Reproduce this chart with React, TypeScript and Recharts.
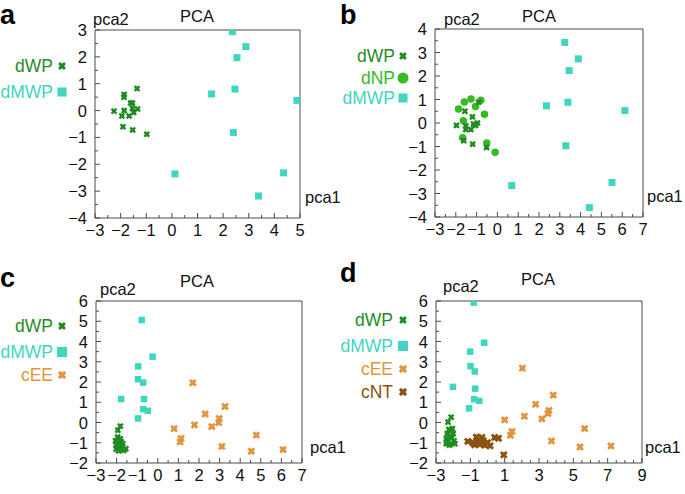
import React from "react";
import { ScatterChart, Scatter, XAxis, YAxis, ReferenceArea } from "recharts";

// ---- data ----
const aWP: [number, number][] = [
  [-1.36, 0.82], [-1.86, 0.6], [-1.87, 0.5], [-1.61, 0.28], [-1.54, 0.28],
  [-2.26, -0.02], [-1.86, 0.0], [-1.54, 0.08], [-1.34, 0.06], [-1.49, -0.07],
  [-1.95, -0.2], [-1.67, -0.2], [-1.91, -0.6], [-1.53, -0.72], [-0.98, -0.88],
];
const aMWP: [number, number][] = [
  [2.36, 2.94], [2.89, 2.38], [2.54, 1.97], [2.46, 0.8], [1.55, 0.62],
  [4.88, 0.38], [2.4, -0.82], [0.12, -2.36], [4.36, -2.32], [3.38, -3.18],
];

const bWP: [number, number][] = [
  [-0.91, 0.88], [-1.56, 0.5], [-1.2, 0.26], [-1.97, -0.1], [-1.52, -0.12],
  [-1.15, -0.04], [-0.96, 0.0], [-1.52, -0.27], [-1.28, -0.28], [-1.62, -0.75],
  [-1.19, -0.9], [-0.52, -1.04], [-1.05, -0.1],
];
const bNP: [number, number][] = [
  [-1.27, 1.02], [-0.8, 0.97], [-1.59, 0.89], [-1.05, 0.7], [-1.87, 0.6],
  [-0.62, 0.37], [-1.64, 0.1], [-1.67, -0.63], [-0.51, -0.85], [-0.11, -1.24],
];
const bMWP: [number, number][] = [
  [3.24, 3.43], [3.89, 2.73], [3.45, 2.23], [3.39, 0.88], [2.36, 0.73],
  [6.13, 0.53], [3.29, -0.97], [0.69, -2.66], [5.51, -2.53], [4.42, -3.6],
];

const cWP: [number, number][] = [
  [-1.82, -0.18], [-1.94, -0.38], [-1.95, -0.72], [-1.82, -0.8], [-2.05, -0.9],
  [-1.78, -0.95], [-1.95, -1.0], [-2.02, -1.1], [-1.86, -1.1], [-1.7, -1.05],
  [-1.95, -1.25], [-2.02, -1.32], [-1.8, -1.3], [-1.65, -1.38], [-1.9, -1.4],
  [-1.55, -1.3],
];
const cMWP: [number, number][] = [
  [-0.78, 5.06], [-0.25, 3.25], [-0.95, 2.77], [-0.96, 2.14], [-0.71, 1.97],
  [-1.78, 1.16], [-0.67, 1.16], [-0.71, 0.66], [-0.49, 0.58], [-0.96, 0.2],
];
const cEE: [number, number][] = [
  [1.7, 1.96], [3.26, 0.79], [2.3, 0.42], [2.98, 0.2], [2.96, -0.01],
  [0.79, -0.3], [1.78, -0.12], [2.62, -0.2], [4.78, -0.62], [1.13, -0.79],
  [1.08, -0.96], [3.11, -1.18], [4.54, -1.42], [6.08, -1.34],
];

const dWP: [number, number][] = [
  [-2.12, 0.26], [-2.3, 0.02], [-2.25, -0.35], [-2.12, -0.42], [-2.35, -0.55],
  [-2.0, -0.55], [-2.25, -0.7], [-2.4, -0.8], [-2.1, -0.78], [-1.95, -0.9],
  [-2.3, -0.95], [-2.15, -1.05], [-2.4, -1.05], [-1.9, -1.05], [-2.22, -1.12],
  [-2.05, -0.3],
];
const dMWP: [number, number][] = [
  [-0.8, 5.92], [-0.19, 3.94], [-1.01, 3.5], [-0.99, 2.78], [-0.74, 2.52],
  [-2.01, 1.76], [-0.72, 1.67], [-0.78, 1.15], [-0.48, 1.07], [-1.07, 0.7],
];
const dEE: [number, number][] = [
  [2.03, 2.68], [3.83, 1.35], [2.8, 0.9], [3.58, 0.6], [3.52, 0.44],
  [2.15, 0.31], [3.17, 0.18], [1.0, 0.13], [5.66, -0.3], [1.43, -0.44],
  [1.33, -0.63], [3.73, -0.91], [5.39, -1.21], [7.19, -1.16],
];
const dNT: [number, number][] = [
  [-1.15, -0.93], [-0.85, -1.0], [-0.75, -1.1], [-0.65, -0.72], [-0.55, -0.95],
  [-0.45, -1.08], [-0.33, -0.74], [-0.25, -0.9], [-0.15, -1.12], [0.0, -1.0],
  [0.15, -1.15], [0.42, -0.74], [0.64, -0.78], [0.95, -1.6],
];

// tick labels
const aXTicks = [-3, -2, -1, 0, 1, 2, 3, 4, 5];
const aYTicks = [-4, -3, -2, -1, 0, 1, 2, 3];
const bXTicks = [-3, -2, -1, 0, 1, 2, 3, 4, 5, 6, 7];
const bYTicks = [-4, -3, -2, -1, 0, 1, 2, 3, 4];
const cXTicks = [-3, -2, -1, 0, 1, 2, 3, 4, 5, 6, 7];
const cYTicks = [-2, -1, 0, 1, 2, 3, 4, 5, 6];
const dXTicks = [-3, -1, 1, 3, 5, 7, 9];
const dYTicks = [-2, -1, 0, 1, 2, 3, 4, 5, 6];

const C_WP = "#1f8c1f";
const C_NP = "#36bb24";
const C_MWP = "#3fd6c0";
const C_EE = "#e0963c";
const C_NT = "#8a520f";
const AXIS = "#4a4a4a";
const FONT = "'Liberation Sans', Arial, Helvetica, sans-serif";
const TICK_FS = 16.5;

type Kind = "cross" | "square" | "circle";

function Marker({ kind, cx, cy, color, s }: { kind: Kind; cx: number; cy: number; color: string; s: number }) {
  if (kind === "square") {
    return <rect x={cx - s / 2} y={cy - s / 2} width={s} height={s} fill={color} />;
  }
  if (kind === "circle") {
    return <circle cx={cx} cy={cy} r={s / 2} fill={color} />;
  }
  const h = s * 0.3;
  return (
    <g>
      <rect x={cx - s * 0.36} y={cy - s * 0.36} width={s * 0.72} height={s * 0.72} fill={color} />
      <path
        d={`M${cx - h},${cy - h}L${cx + h},${cy + h}M${cx - h},${cy + h}L${cx + h},${cy - h}`}
        stroke={color}
        strokeWidth={s * 0.42}
        strokeLinecap="square"
      />
    </g>
  );
}

type Series = { name: string; data: [number, number][]; kind: Kind; color: string; size: number; legendSize: number };

function withMinors(majors: number[], parts: number) {
  const out: number[] = [];
  for (let i = 0; i < majors.length; i++) {
    out.push(majors[i]);
    if (i < majors.length - 1) {
      const step = (majors[i + 1] - majors[i]) / parts;
      for (let k = 1; k < parts; k++) out.push(majors[i] + step * k);
    }
  }
  return out;
}

const fmt = (v: number) => (v < 0 ? "\u2212" + Math.abs(v) : String(v));
const isMajor = (majors: number[], v: number) => majors.some((m) => Math.abs(m - v) < 1e-6);

function XTick({ x, y, value, majors }: { x: number; y: number; value: number; majors: number[] }) {
  const major = isMajor(majors, value);
  return (
    <g>
      <line x1={x} x2={x} y1={y} y2={y - (major ? 5 : 3)} stroke={AXIS} strokeWidth={1} />
      {major && (
        <text x={x} y={y + 18} textAnchor="middle" fontSize={TICK_FS} fill="#111" fontFamily={FONT}>
          {fmt(value)}
        </text>
      )}
    </g>
  );
}

function YTick({ x, y, value, majors }: { x: number; y: number; value: number; majors: number[] }) {
  const major = isMajor(majors, value);
  return (
    <g>
      <line x1={x} x2={x + (major ? 5 : 3)} y1={y} y2={y} stroke={AXIS} strokeWidth={1} />
      {major && (
        <text x={x - 8} y={y + 6} textAnchor="end" fontSize={TICK_FS} fill="#111" fontFamily={FONT}>
          {fmt(value)}
        </text>
      )}
    </g>
  );
}

type PanelProps = {
  left: number; top: number; width: number; height: number;
  plot: { x: number; y: number; w: number; h: number };
  xMajors: number[]; yMajors: number[]; xParts: number;
  series: Series[];
};

const Y_W = 30;
const X_H = 25;

function Panel({ left, top, width, height, plot, xMajors, yMajors, xParts, series }: PanelProps) {
  const xd: [number, number] = [xMajors[0], xMajors[xMajors.length - 1]];
  const yd: [number, number] = [yMajors[0], yMajors[yMajors.length - 1]];
  const axisX = plot.x;
  const axisY = plot.y + plot.h;
  return (
    <div style={{ position: "absolute", left, top, width, height }}>
      <ScatterChart
        width={width}
        height={height}
        margin={{ top: plot.y, left: plot.x - Y_W, right: width - plot.x - plot.w, bottom: height - plot.y - plot.h - X_H }}
      >
        <XAxis
          type="number" dataKey="x" domain={xd} ticks={withMinors(xMajors, xParts)} interval={0}
          allowDataOverflow height={X_H} axisLine={false} tickLine={false}
          tick={(p: any) => <XTick x={p.x} y={axisY} value={p.payload.value} majors={xMajors} />}
        />
        <YAxis
          type="number" dataKey="y" domain={yd} ticks={withMinors(yMajors, 2)} interval={0}
          allowDataOverflow width={Y_W} axisLine={false} tickLine={false}
          tick={(p: any) => <YTick x={axisX} y={p.y} value={p.payload.value} majors={yMajors} />}
        />
        <ReferenceArea x1={xd[0]} x2={xd[1]} y1={yd[0]} y2={yd[1]} fill="none" stroke={AXIS} strokeWidth={1} />
        {series.map((s) => (
          <Scatter
            key={s.name}
            name={s.name}
            data={s.data.map(([x, y]) => ({ x, y }))}
            isAnimationActive={false}
            shape={(p: any) => <Marker kind={s.kind} cx={p.cx} cy={p.cy} color={s.color} s={s.size} />}
          />
        ))}
      </ScatterChart>
    </div>
  );
}

type Labels = {
  letter: [string, number, number];
  pca2: [number, number]; title: [number, number]; pca1: [number, number];
  legendX: number; markerX: number; legendY: number[];
};

function PanelText({ l, series }: { l: Labels; series: Series[] }) {
  return (
    <g fontFamily={FONT}>
      <text x={l.letter[1]} y={l.letter[2]} fontSize={27} fontWeight="bold" fill="#000">{l.letter[0]}</text>
      <text x={l.pca2[0]} y={l.pca2[1]} fontSize={16.5} fill="#111">pca2</text>
      <text x={l.title[0]} y={l.title[1]} fontSize={16.5} fill="#111">PCA</text>
      <text x={l.pca1[0]} y={l.pca1[1]} fontSize={16.5} fill="#111">pca1</text>
      {series.map((s, i) => (
        <g key={s.name}>
          <text x={l.legendX} y={l.legendY[i] + 6} fontSize={17.5} textAnchor="end" fill={s.color}>{s.name}</text>
          <Marker kind={s.kind} cx={l.markerX} cy={l.legendY[i]} color={s.color} s={s.legendSize} />
        </g>
      ))}
    </g>
  );
}

const seriesA: Series[] = [
  { name: "dWP", data: aWP, kind: "cross", color: C_WP, size: 5.5, legendSize: 6.5 },
  { name: "dMWP", data: aMWP, kind: "square", color: C_MWP, size: 7, legendSize: 9 },
];
const seriesB: Series[] = [
  { name: "dWP", data: bWP, kind: "cross", color: C_WP, size: 5.5, legendSize: 6.5 },
  { name: "dNP", data: bNP, kind: "circle", color: C_NP, size: 7.5, legendSize: 11 },
  { name: "dMWP", data: bMWP, kind: "square", color: C_MWP, size: 7, legendSize: 9 },
];
const seriesC: Series[] = [
  { name: "dWP", data: cWP, kind: "cross", color: C_WP, size: 5.5, legendSize: 6.5 },
  { name: "dMWP", data: cMWP, kind: "square", color: C_MWP, size: 6.5, legendSize: 10 },
  { name: "cEE", data: cEE, kind: "cross", color: C_EE, size: 6.5, legendSize: 7 },
];
const seriesD: Series[] = [
  { name: "dWP", data: dWP, kind: "cross", color: C_WP, size: 5.5, legendSize: 6.5 },
  { name: "dMWP", data: dMWP, kind: "square", color: C_MWP, size: 6.5, legendSize: 10 },
  { name: "cEE", data: dEE, kind: "cross", color: C_EE, size: 6.5, legendSize: 7 },
  { name: "cNT", data: dNT, kind: "cross", color: C_NT, size: 6.5, legendSize: 7 },
];

// draw order: later series on top
const order = (s: Series[], names: string[]) => names.map((n) => s.find((x) => x.name === n)!);

export default function App() {
  return (
    <div style={{ position: "absolute", left: 0, top: 0, width: 685, height: 494, background: "#fff", overflow: "hidden" }}>
      <Panel left={0} top={0} width={340} height={245} plot={{ x: 95, y: 30, w: 205, h: 188 }}
        xMajors={aXTicks} yMajors={aYTicks} xParts={2} series={order(seriesA, ["dMWP", "dWP"])} />
      <Panel left={340} top={0} width={345} height={245} plot={{ x: 95, y: 29, w: 208, h: 188 }}
        xMajors={bXTicks} yMajors={bYTicks} xParts={2} series={order(seriesB, ["dMWP", "dNP", "dWP"])} />
      <Panel left={0} top={245} width={340} height={249} plot={{ x: 96, y: 56, w: 206, h: 162 }}
        xMajors={cXTicks} yMajors={cYTicks} xParts={2} series={order(seriesC, ["dMWP", "cEE", "dWP"])} />
      <Panel left={340} top={245} width={345} height={249} plot={{ x: 96, y: 56, w: 206, h: 162 }}
        xMajors={dXTicks} yMajors={dYTicks} xParts={4} series={order(seriesD, ["dMWP", "cEE", "cNT", "dWP"])} />
      <svg width={685} height={494} style={{ position: "absolute", left: 0, top: 0, pointerEvents: "none" }}>
        <PanelText series={seriesA} l={{ letter: ["a", 0, 24], pca2: [93, 25], title: [180, 22], pca1: [305, 203], legendX: 53, markerX: 62, legendY: [66, 92] }} />
        <PanelText series={seriesB} l={{ letter: ["b", 340, 24], pca2: [444, 25], title: [522, 22], pca1: [647, 202], legendX: 395, markerX: 403, legendY: [56, 78, 98] }} />
        <PanelText series={seriesC} l={{ letter: ["c", 0, 287], pca2: [100, 295], title: [180, 287], pca1: [310, 453], legendX: 53, markerX: 62, legendY: [326, 352, 375] }} />
        <PanelText series={seriesD} l={{ letter: ["d", 340, 282], pca2: [443, 292], title: [521, 285], pca1: [645, 453], legendX: 393, markerX: 403, legendY: [320, 346, 369, 392] }} />
      </svg>
    </div>
  );
}
